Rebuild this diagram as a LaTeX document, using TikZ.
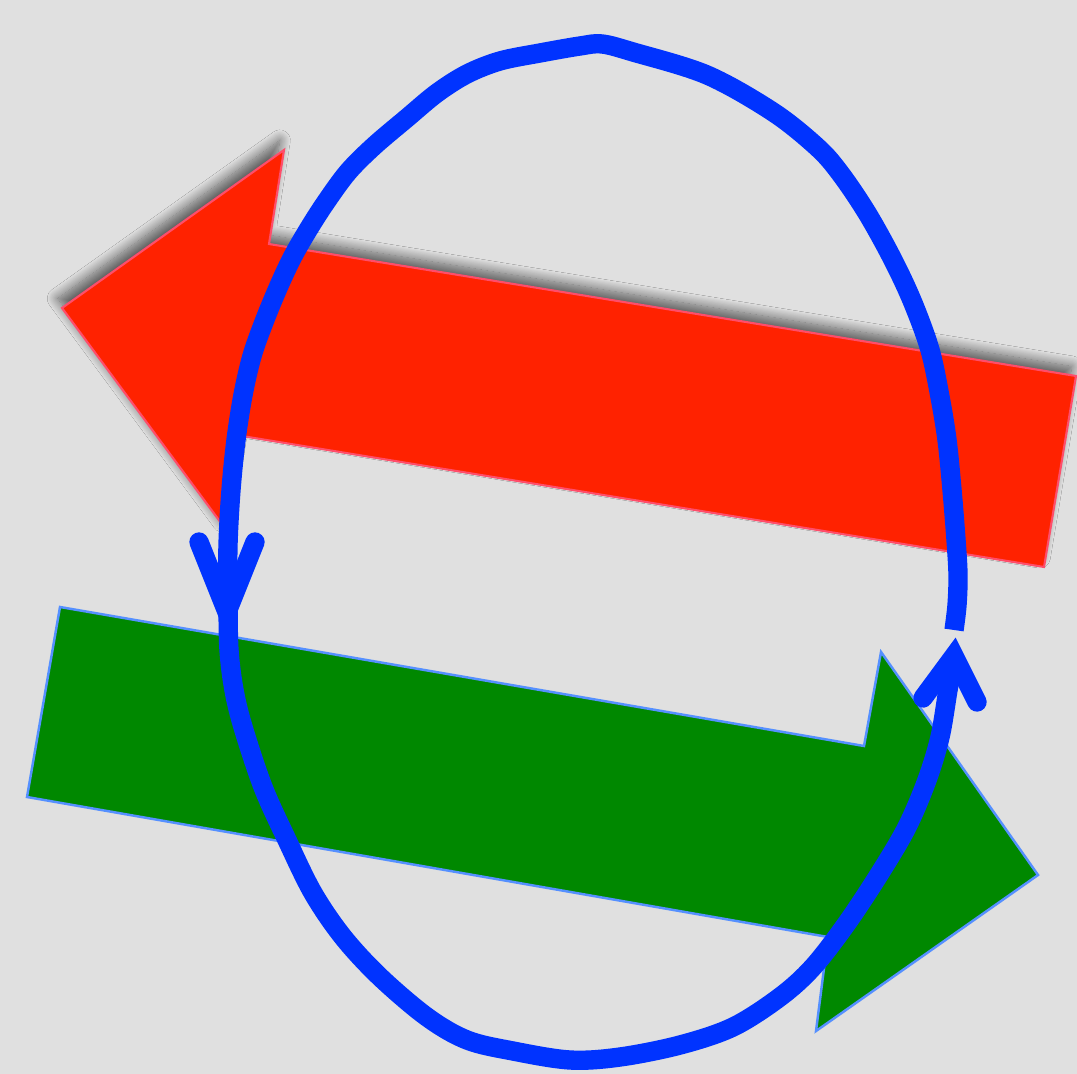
\documentclass[tikz,border=0pt]{standalone}
\usepackage{tikz}
\usetikzlibrary{shadows.blur}
\usepackage{xcolor}
\definecolor{backgr}{HTML}{E0E0E0}
\definecolor{leftred}{HTML}{FF2200}
\definecolor{leftrim}{HTML}{FF4D6A}
\definecolor{rightgreen}{HTML}{008800}
\definecolor{rightrim}{HTML}{5590FF}
\definecolor{loopblue}{HTML}{0033FF}

\begin{document}
\begin{tikzpicture}[x=0.01cm,y=-0.01cm,
  redarrow/.style={fill=leftred,draw=leftrim,line width=0.6pt,line join=miter,
    blur shadow={shadow xshift=-1.2pt,shadow yshift=2.7pt,shadow blur radius=3pt,shadow blur steps=16,shadow opacity=60}},
  greenarrow/.style={fill=rightgreen,draw=rightrim,line width=0.7pt,line join=miter},
  loopline/.style={draw=loopblue,line width=5.5pt},
  looptip/.style={draw=loopblue,line width=5.5pt,line cap=round,line join=miter}]
  % Background
  \fill[backgr] (0,0) rectangle (1077,1074);
  \useasboundingbox (0,0) rectangle (1077,1074);
  % Red arrow, pointing left
  \path[redarrow] (62,308) -- (284,150) -- (269,244) -- (1076,376) -- (1044,567)
    -- (242,436) -- (227,531) -- cycle;
  % Green arrow, pointing right
  \path[greenarrow] (60,607) -- (864,746) -- (881,652) -- (1038,875) -- (816,1031)
    -- (828,937) -- (27,797) -- cycle;
  % Blue loop
  \draw[loopline] plot[smooth,tension=0.55] coordinates {
    (954,630) (957,605) (958,575) (956,540) (952,490) (947,440) (940,397)
    (930,350) (913,303) (893,260) (867,213) (840,173) (817,147) (773,112)
    (707,75) (633,52) (602,44) (580,46) (540,53) (500,61) (467,74) (437,93)
    (407,118) (374,146) (348,172) (326,202) (308,230) (292,258) (278,288)
    (264,322) (252,356) (243,395) (236,440) (231,490) (228,545) (228,600)
    (229,650) (234,690) (243,727) (263,787) (287,840) (313,893) (343,937)
    (380,977) (427,1017) (467,1040) (513,1051) (570,1060) (620,1057)
    (680,1045) (733,1027) (780,997) (813,967) (847,923) (880,873) (907,827)
    (927,780) (940,737) (948,690) (953,664)};
  % Arrow heads on the loop
  \draw[looptip] (199,542) -- (227,612) -- (255,542);
  \draw[looptip] (923,698) -- (954,656) -- (977,702);
\end{tikzpicture}
\end{document}
